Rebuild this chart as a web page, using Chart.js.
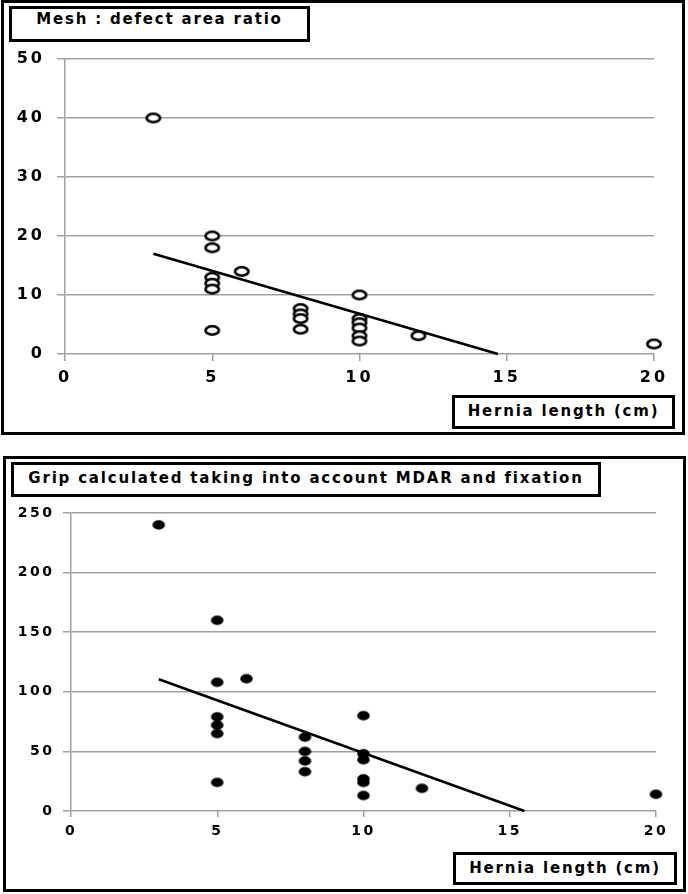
<!DOCTYPE html>
<html>
<head>
<meta charset="utf-8">
<script src="https://cdn.jsdelivr.net/npm/chart.js@4.4.1/dist/chart.umd.min.js"></script>
<style>
  body { margin: 0; background: #fff; }
  #page { position: relative; width: 688px; height: 894px; overflow: hidden; }
  .frame { position: absolute; border: 3px solid #000; box-sizing: border-box; }
  .box { position: absolute; border: 3px solid #000; box-sizing: border-box; background: #fff;
         font-family: "DejaVu Sans", sans-serif; font-weight: bold; font-size: 15px; line-height: 18px;
         letter-spacing: 1.8px; text-align: center; color: #000; white-space: nowrap; }
  canvas { position: absolute; left: 0; }
</style>
</head>
<body>
<div id="page">
  <div class="frame" style="left:1px;top:0;width:684px;height:435px"></div>
  <div class="frame" style="left:3px;top:456px;width:683px;height:436px"></div>
  <canvas id="meshChart" width="688" height="440" style="top:0"></canvas>
  <canvas id="gripChart" width="688" height="444" style="top:450px"></canvas>
  <div class="box" style="left:9px;top:6px;width:301px;height:36px;padding-top:1px">Mesh : defect area ratio</div>
  <div class="box" style="left:452px;top:395px;width:223px;height:34px;padding-top:4px">Hernia length (cm)</div>
  <div class="box" style="left:11px;top:462px;width:590px;height:35px;padding-top:4px">Grip calculated taking into account MDAR and fixation</div>
  <div class="box" style="left:453px;top:852px;width:224px;height:33px;padding-top:4px">Hernia length (cm)</div>
</div>
<script>
// ===== Données =====
const xTicks = [0, 5, 10, 15, 20];

// Mesh : defect area ratio (cercles vides)
const meshX = [3, 5, 5, 5, 5, 5, 5, 6, 8, 8, 8, 8, 10, 10, 10, 10, 10, 10, 12, 20];
const meshY = [40, 20, 18, 13, 12, 11, 4, 14, 7.7, 6.8, 6, 4.2, 10, 6, 5.3, 4.4, 3.1, 2.2, 3.1, 1.7];
const meshTicks = [0, 10, 20, 30, 40, 50];
const meshTrendX = [3, 14.7];
const meshTrendY = [17, 0];

// Grip (points pleins)
const gripX = [3, 5, 5, 5, 5, 5, 5, 6, 8, 8, 8, 8, 10, 10, 10, 10, 10, 10, 12, 20];
const gripY = [240, 160, 108, 79, 72, 65, 24, 111, 62, 50, 42, 33, 80, 48, 43, 27, 24, 13, 19, 14];
const gripTicks = [0, 50, 100, 150, 200, 250];
const gripTrendX = [3, 15.5];
const gripTrendY = [110.5, 0];

const GRID = "#a0a0a0";

// marqueur ellipse (cercle un peu écrasé comme dans Excel)
function makeMarker(rx, ry, filled) {
    const c = document.createElement("canvas");
    c.width = Math.ceil(rx * 2 + 6);
    c.height = Math.ceil(ry * 2 + 6);
    const g = c.getContext("2d");
    g.beginPath();
    g.ellipse(c.width / 2, c.height / 2, rx, ry, 0, 0, Math.PI * 2);
    if (filled) {
        g.fillStyle = "#000";
        g.fill();
    } else {
        g.fillStyle = "#fff";
        g.fill();
        g.lineWidth = 2.6;
        g.strokeStyle = "#000";
        g.stroke();
    }
    return c;
}

function toPoints(xs, ys) {
    return xs.map((x, i) => ({ x: x, y: ys[i] }));
}

function buildChart(id, cfg) {
    const ticksOf = (list) => (value) => list.includes(value) ? String(value) : "";
    return new Chart(document.getElementById(id), {
        type: "scatter",
        data: {
            datasets: [
                {
                    data: toPoints(cfg.trendX, cfg.trendY),
                    showLine: true,
                    borderColor: "#000",
                    borderWidth: 2.5,
                    pointRadius: 0,
                    order: 0,
                    clip: false
                },
                {
                    data: toPoints(cfg.xs, cfg.ys),
                    pointStyle: cfg.marker,
                    pointRadius: 7,
                    order: 1,
                    clip: false
                }
            ]
        },
        options: {
            responsive: false,
            animation: false,
            events: [],
            layout: { padding: { top: cfg.top, right: cfg.right, left: 0, bottom: 0 } },
            plugins: { legend: { display: false }, tooltip: { enabled: false } },
            scales: {
                x: {
                    type: "linear",
                    min: 0, max: 20,
                    afterFit: (s) => { s.height = cfg.xHeight; },
                    afterBuildTicks: (s) => { s.ticks = xTicks.map(v => ({ value: v })); },
                    grid: { drawOnChartArea: false, color: GRID, lineWidth: 1.5, tickLength: cfg.xTickLen },
                    border: { display: false },
                    ticks: {
                        color: "#000",
                        padding: cfg.xPad,
                        maxRotation: 0,
                        font: { family: "DejaVu Sans", weight: "bold", size: cfg.fontSize },
                        callback: ticksOf(xTicks)
                    }
                },
                y: {
                    type: "linear",
                    min: 0, max: cfg.yTicks[cfg.yTicks.length - 1],
                    afterFit: (s) => { s.width = cfg.yWidth; },
                    afterBuildTicks: (s) => { s.ticks = cfg.yTicks.map(v => ({ value: v })); },
                    grid: { color: GRID, lineWidth: 1.5, tickLength: 8 },
                    border: { display: true, color: GRID, width: 1.5 },
                    ticks: {
                        color: "#000",
                        padding: cfg.yPad,
                        font: { family: "DejaVu Sans", weight: "bold", size: cfg.fontSize },
                        callback: ticksOf(cfg.yTicks)
                    }
                }
            }
        },
        plugins: [{
            id: "spacing",
            beforeDraw(chart) { chart.ctx.letterSpacing = cfg.spacing + "px"; }
        }]
    });
}

buildChart("meshChart", {
    xs: meshX, ys: meshY, trendX: meshTrendX, trendY: meshTrendY, yTicks: meshTicks,
    marker: makeMarker(6.7, 4.2, false),
    top: 59, right: 34, yWidth: 65, xHeight: 86,
    fontSize: 16, spacing: 3, xPad: 7, yPad: 12, xTickLen: 7
});

buildChart("gripChart", {
    xs: gripX, ys: gripY, trendX: gripTrendX, trendY: gripTrendY, yTicks: gripTicks,
    marker: makeMarker(6.3, 4.7, true),
    top: 63, right: 32, yWidth: 71, xHeight: 83,
    fontSize: 14, spacing: 2.5, xPad: 6, yPad: 8.5, xTickLen: 6
});
</script>
</body>
</html>
